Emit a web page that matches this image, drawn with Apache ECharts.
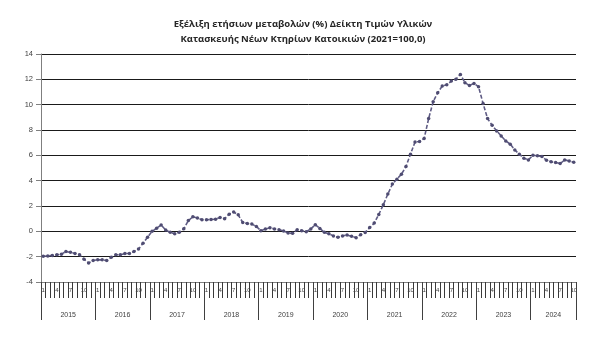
<!DOCTYPE html>
<html>
<head>
<meta charset="utf-8">
<script src="https://cdn.jsdelivr.net/npm/echarts@6/dist/echarts.min.js"></script>
<style>
  html, body { margin: 0; padding: 0; background: #fff; }
  #chart { width: 601px; height: 345px; }
</style>
</head>
<body>
<div id="chart"></div>
<script>
// Annual % change of the construction materials price index for new residential buildings (2021=100,0)
const years = [2015, 2016, 2017, 2018, 2019, 2020, 2021, 2022, 2023, 2024];

const v2015 = [-1.97, -1.95, -1.9, -1.85, -1.8, -1.6, -1.65, -1.75, -1.85, -2.2, -2.5, -2.3];
const v2016 = [-2.25, -2.25, -2.3, -2.05, -1.85, -1.85, -1.75, -1.75, -1.6, -1.4, -0.95, -0.47];
const v2017 = [0.0, 0.24, 0.5, 0.1, -0.08, -0.2, -0.08, 0.2, 0.85, 1.15, 1.05, 0.92];
const v2018 = [0.92, 0.93, 0.96, 1.09, 1.0, 1.35, 1.53, 1.3, 0.7, 0.62, 0.57, 0.39];
const v2019 = [0.05, 0.18, 0.29, 0.18, 0.13, 0.03, -0.13, -0.16, 0.13, 0.05, -0.03, 0.18];
const v2020 = [0.52, 0.23, -0.08, -0.2, -0.36, -0.47, -0.36, -0.29, -0.39, -0.5, -0.26, -0.1];
const v2021 = [0.3, 0.65, 1.33, 2.1, 2.94, 3.73, 4.12, 4.51, 5.12, 6.09, 7.06, 7.09];
const v2022 = [7.32, 8.9, 10.24, 10.94, 11.47, 11.57, 11.86, 12.0, 12.39, 11.73, 11.52, 11.68];
const v2023 = [11.42, 10.1, 8.9, 8.37, 7.93, 7.53, 7.14, 6.88, 6.43, 6.09, 5.77, 5.64];
const v2024 = [6.01, 5.96, 5.9, 5.62, 5.49, 5.43, 5.35, 5.64, 5.56, 5.46];

const yTicks = [-4, -2, 0, 2, 4, 6, 8, 10, 12, 14];

const byYear = [v2015, v2016, v2017, v2018, v2019, v2020, v2021, v2022, v2023, v2024];

// one category per month, labelled by month number
const categories = [];
const values = [];
const yearStarts = [];
byYear.forEach((arr) => {
  yearStarts.push(categories.length);
  arr.forEach((v, m) => {
    categories.push(String(m + 1));
    values.push(v);
  });
});
const total = categories.length;
const yearBounds = yearStarts.concat([total]);
const yearCenters = yearStarts.map((s, k) => (s + yearBounds[k + 1]) / 2);

const chart = echarts.init(document.getElementById('chart'), null, { renderer: 'canvas' });

const axisColor = '#7f7f7f';
const textColor = '#404040';

chart.setOption({
  animation: false,
  backgroundColor: '#ffffff',
  title: {
    text: 'Εξέλιξη ετήσιων μεταβολών (%) Δείκτη Τιμών Υλικών\nΚατασκευής Νέων Κτηρίων Κατοικιών (2021=100,0)',
    left: 298,
    textAlign: 'center',
    top: 12,
    textStyle: {
      fontFamily: 'Open Sans',
      fontSize: 9.5,
      fontWeight: 'bold',
      color: '#262626',
      lineHeight: 15
    }
  },
  grid: { left: 41, right: 25, top: 54, bottom: 63, containLabel: false },
  xAxis: [
    {
      type: 'category',
      data: categories,
      boundaryGap: true,
      position: 'bottom',
      axisLine: { show: true, onZero: false, lineStyle: { color: axisColor, width: 1 } },
      axisTick: { show: true, interval: 0, length: 16, lineStyle: { color: '#3a3a3a', width: 1 } },
      axisLabel: {
        interval: (idx, val) => (Number(val) - 1) % 3 === 0,
        margin: 5,
        fontSize: 6,
        fontFamily: 'Liberation Sans',
        color: textColor
      },
      splitLine: { show: false }
    },
    {
      type: 'value',
      min: 0,
      max: total,
      position: 'bottom',
      axisLine: { show: false, onZero: false },
      axisTick: {
        show: true,
        length: 38,
        customValues: yearBounds,
        lineStyle: { color: '#404040', width: 1 }
      },
      axisLabel: {
        customValues: yearCenters,
        margin: 30,
        fontSize: 7,
        fontFamily: 'Liberation Sans',
        color: textColor,
        formatter: v => String(years[yearCenters.indexOf(v)])
      },
      splitLine: { show: false }
    }
  ],
  yAxis: {
    type: 'value',
    min: yTicks[0],
    max: yTicks[yTicks.length - 1],
    interval: 2,
    axisLine: { show: true, onZero: false, lineStyle: { color: axisColor, width: 1 } },
    axisTick: { show: true, length: 5, inside: false, lineStyle: { color: axisColor } },
    axisLabel: {
      fontSize: 7.5,
      fontFamily: 'Liberation Sans',
      color: textColor,
      margin: 8
    },
    splitLine: { show: true, lineStyle: { color: '#1a1a1a', width: 1 } }
  },
  series: [
    {
      type: 'line',
      xAxisIndex: 0,
      data: values,
      symbol: 'circle',
      symbolSize: 3.5,
      showSymbol: true,
      showAllSymbol: true,
      itemStyle: { color: '#4f4c72' },
      lineStyle: { color: '#5e5b84', width: 1.6, type: [4, 2] },
      silent: true
    }
  ]
});
</script>
</body>
</html>
